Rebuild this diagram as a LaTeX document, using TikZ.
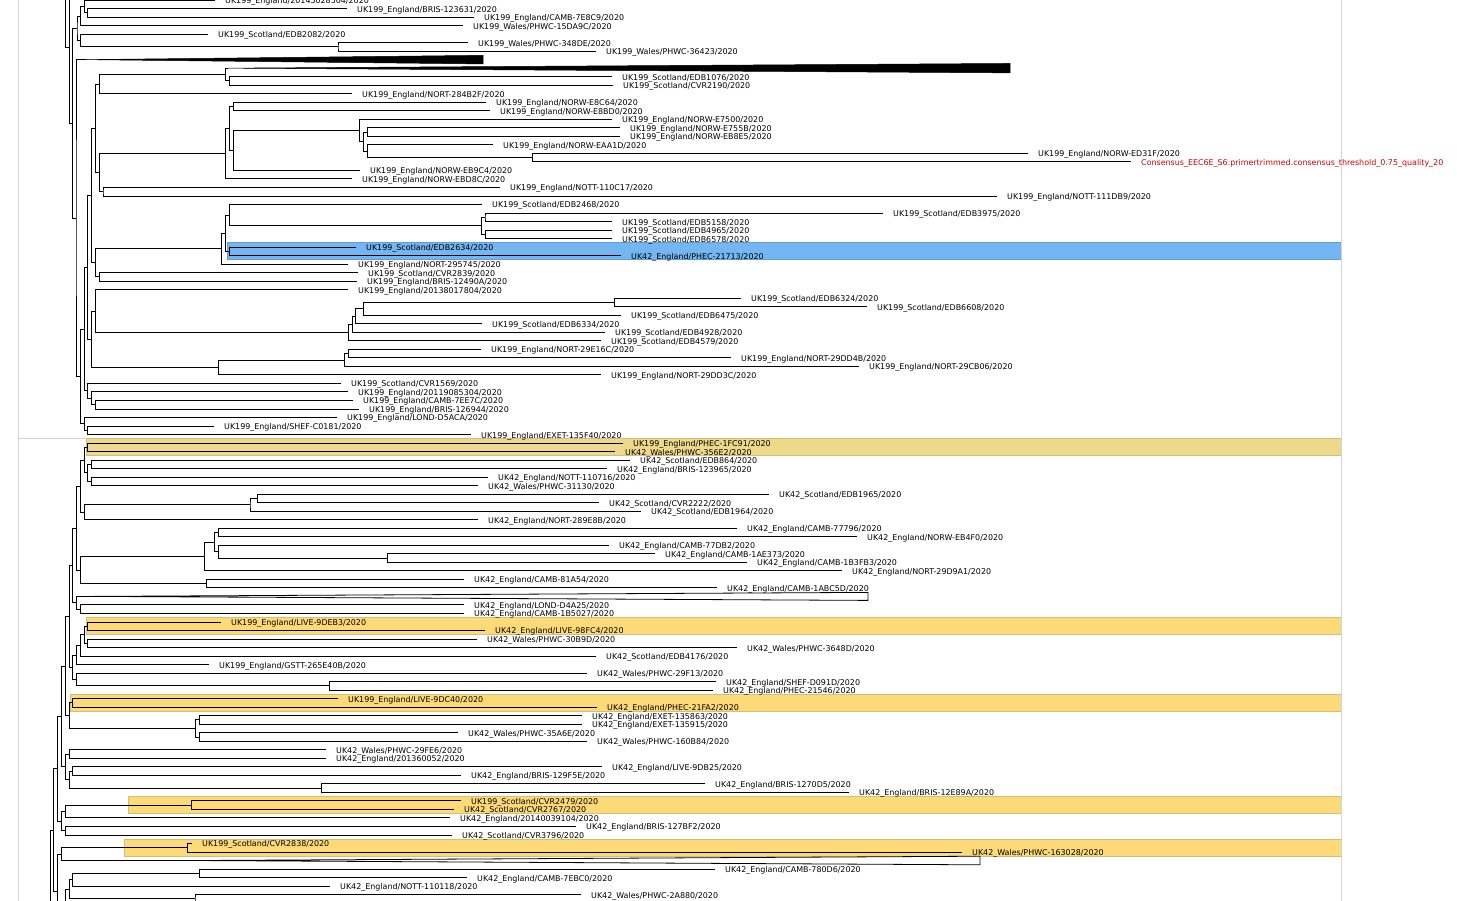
\documentclass[tikz,border=0pt]{standalone}
\usepackage{fontspec}
\newfontfamily\labfamily{DejaVu Sans}
\usetikzlibrary{calc}

\definecolor{hlblue}{RGB}{116,182,242}
\definecolor{hlblueline}{RGB}{96,156,214}
\definecolor{hltan}{RGB}{237,216,140}
\definecolor{hlyellow}{RGB}{253,218,120}
\definecolor{hlline}{RGB}{214,190,122}
\definecolor{panelline}{RGB}{212,212,212}
\definecolor{conred}{RGB}{204,0,0}

\tikzset{
  branch/.style={line width=0.9pt, line join=miter},
  lab/.style={anchor=base west, inner sep=0pt, font=\labfamily\fontsize{7.95}{9}\selectfont},
  refseq/.style={text=conred},
  solidclade/.style={fill=black, draw=black, line width=0.5pt, line join=miter},
  openclade/.style={fill=white, draw=black, line width=0.8pt, line join=miter},
  band/.style={line width=0.6pt},
}

% leaf: [style] row, tip x, label
\newcommand\leaf[4][]{%
  \coordinate (r#2) at (#3,{#2*8.52});
  \node[lab,#1] (l#2) at ([xshift=10pt,yshift=-3.5pt]r#2) {#4};}
% collapsed clade: row, apex x, base x, half height, style
\newcommand\clade[5]{%
  \coordinate (r#1) at (#2,{#1*8.52});
  \path[#5] (r#1) -- (#3,{#1*8.52-#4}) -- (#3,{#1*8.52+#4}) -- cycle;}
% internal node: name, x, first child, second child
\newcommand\inode[4]{%
  \path let \p1=($(#3)!0.5!(#4)$) in coordinate (#1) at (#2pt,\y1);
  \draw[branch] (#3) -| (#1) |- (#4);}

\begin{document}
\begin{tikzpicture}[x=1pt,y=-1pt]
\useasboundingbox (0,0) rectangle (1457,901);
\clip (0,0) rectangle (1457,901);
\fill[white] (0,0) rectangle (1457,901);

% highlighted clades
\filldraw[band, fill=hlblue, draw=hlblueline] (227.5,242.5) rectangle (1341,259.5);
\filldraw[band, fill=hltan, draw=hlline] (86.3,438.3) rectangle (1341,455.5);
\filldraw[band, fill=hlyellow, draw=hlline] (86.3,617.3) rectangle (1341,634.5);
\filldraw[band, fill=hlyellow, draw=hlline] (70,694) rectangle (1341,711.5);
\filldraw[band, fill=hlyellow, draw=hlline] (128,796.5) rectangle (1341,813.7);
\filldraw[band, fill=hlyellow, draw=hlline] (124,839.3) rectangle (1341,856.5);

% panel frame
\draw[panelline, line width=0.9pt] (18,0) -- (18,901);
\draw[panelline, line width=0.9pt] (1341,0) -- (1341,901);
\draw[panelline, line width=0.9pt] (18,438.3) -- (86.3,438.3);

% ---- tips ----
\leaf{0}{215}{UK199\_England/20145028504/2020}
\leaf{1}{347}{UK199\_England/BRIS-123631/2020}
\leaf{2}{474}{UK199\_England/CAMB-7E8C9/2020}
\leaf{3}{463}{UK199\_Wales/PHWC-15DA9C/2020}
\leaf{4}{208}{UK199\_Scotland/EDB2082/2020}
\leaf{5}{468}{UK199\_Wales/PHWC-348DE/2020}
\leaf{6}{596}{UK199\_Wales/PHWC-36423/2020}
\clade{7}{86}{483}{4.3}{solidclade}
\clade{8}{228}{1010}{4.7}{solidclade}
\leaf{9}{612}{UK199\_Scotland/EDB1076/2020}
\leaf{10}{613}{UK199\_Scotland/CVR2190/2020}
\leaf{11}{352}{UK199\_England/NORT-284B2F/2020}
\leaf{12}{486}{UK199\_England/NORW-E8C64/2020}
\leaf{13}{490}{UK199\_England/NORW-E8BD0/2020}
\leaf{14}{612}{UK199\_England/NORW-E7500/2020}
\leaf{15}{620}{UK199\_England/NORW-E755B/2020}
\leaf{16}{620}{UK199\_England/NORW-EB8E5/2020}
\leaf{17}{493}{UK199\_England/NORW-EAA1D/2020}
\leaf{18}{1028}{UK199\_England/NORW-ED31F/2020}
\leaf[refseq]{19}{1131}{Consensus\_EEC6E\_S6.primertrimmed.consensus\_threshold\_0.75\_quality\_20}
\leaf{20}{360}{UK199\_England/NORW-EB9C4/2020}
\leaf{21}{352}{UK199\_England/NORW-EBD8C/2020}
\leaf{22}{500}{UK199\_England/NOTT-110C17/2020}
\leaf{23}{997}{UK199\_England/NOTT-111DB9/2020}
\leaf{24}{482}{UK199\_Scotland/EDB2468/2020}
\leaf{25}{883}{UK199\_Scotland/EDB3975/2020}
\leaf{26}{612}{UK199\_Scotland/EDB5158/2020}
\leaf{27}{612}{UK199\_Scotland/EDB4965/2020}
\leaf{28}{612}{UK199\_Scotland/EDB6578/2020}
\leaf{29}{356}{UK199\_Scotland/EDB2634/2020}
\leaf{30}{621}{UK42\_England/PHEC-21713/2020}
\leaf{31}{348}{UK199\_England/NORT-295745/2020}
\leaf{32}{358}{UK199\_Scotland/CVR2839/2020}
\leaf{33}{357}{UK199\_England/BRIS-12490A/2020}
\leaf{34}{348}{UK199\_England/20138017804/2020}
\leaf{35}{741}{UK199\_Scotland/EDB6324/2020}
\leaf{36}{867}{UK199\_Scotland/EDB6608/2020}
\leaf{37}{621}{UK199\_Scotland/EDB6475/2020}
\leaf{38}{482}{UK199\_Scotland/EDB6334/2020}
\leaf{39}{605}{UK199\_Scotland/EDB4928/2020}
\leaf{40}{601}{UK199\_Scotland/EDB4579/2020}
\leaf{41}{481}{UK199\_England/NORT-29E16C/2020}
\leaf{42}{731}{UK199\_England/NORT-29DD4B/2020}
\leaf{43}{859}{UK199\_England/NORT-29CB06/2020}
\leaf{44}{601}{UK199\_England/NORT-29DD3C/2020}
\leaf{45}{341}{UK199\_Scotland/CVR1569/2020}
\leaf{46}{348}{UK199\_England/20119085304/2020}
\leaf{47}{353}{UK199\_England/CAMB-7EE7C/2020}
\leaf{48}{359}{UK199\_England/BRIS-126944/2020}
\leaf{49}{337}{UK199\_England/LOND-D5ACA/2020}
\leaf{50}{214}{UK199\_England/SHEF-C0181/2020}
\leaf{51}{471}{UK199\_England/EXET-135F40/2020}
\leaf{52}{623}{UK199\_England/PHEC-1FC91/2020}
\leaf{53}{615}{UK42\_Wales/PHWC-356E2/2020}
\leaf{54}{630}{UK42\_Scotland/EDB864/2020}
\leaf{55}{607}{UK42\_England/BRIS-123965/2020}
\leaf{56}{488}{UK42\_England/NOTT-110716/2020}
\leaf{57}{478}{UK42\_Wales/PHWC-31130/2020}
\leaf{58}{769}{UK42\_Scotland/EDB1965/2020}
\leaf{59}{599}{UK42\_Scotland/CVR2222/2020}
\leaf{60}{641}{UK42\_Scotland/EDB1964/2020}
\leaf{61}{478}{UK42\_England/NORT-289E8B/2020}
\leaf{62}{737}{UK42\_England/CAMB-77796/2020}
\leaf{63}{857}{UK42\_England/NORW-EB4F0/2020}
\leaf{64}{609}{UK42\_England/CAMB-77DB2/2020}
\leaf{65}{655}{UK42\_England/CAMB-1AE373/2020}
\leaf{66}{747}{UK42\_England/CAMB-1B3FB3/2020}
\leaf{67}{842}{UK42\_England/NORT-29D9A1/2020}
\leaf{68}{464}{UK42\_England/CAMB-81A54/2020}
\leaf{69}{717}{UK42\_England/CAMB-1ABC5D/2020}
\clade{70}{93}{868}{4}{openclade}
\leaf{71}{464}{UK42\_England/LOND-D4A25/2020}
\leaf{72}{464}{UK42\_England/CAMB-1B5027/2020}
\leaf{73}{221}{UK199\_England/LIVE-9DEB3/2020}
\leaf{74}{485}{UK42\_England/LIVE-98FC4/2020}
\leaf{75}{477}{UK42\_Wales/PHWC-30B9D/2020}
\leaf{76}{737}{UK42\_Wales/PHWC-3648D/2020}
\leaf{77}{596}{UK42\_Scotland/EDB4176/2020}
\leaf{78}{209}{UK199\_England/GSTT-265E40B/2020}
\leaf{79}{587}{UK42\_Wales/PHWC-29F13/2020}
\leaf{80}{716}{UK42\_England/SHEF-D091D/2020}
\leaf{81}{713}{UK42\_England/PHEC-21546/2020}
\leaf{82}{338}{UK199\_England/LIVE-9DC40/2020}
\leaf{83}{597}{UK42\_England/PHEC-21FA2/2020}
\leaf{84}{582}{UK42\_England/EXET-135863/2020}
\leaf{85}{582}{UK42\_England/EXET-135915/2020}
\leaf{86}{458}{UK42\_Wales/PHWC-35A6E/2020}
\leaf{87}{587}{UK42\_Wales/PHWC-160B84/2020}
\leaf{88}{326}{UK42\_Wales/PHWC-29FE6/2020}
\leaf{89}{326}{UK42\_England/201360052/2020}
\leaf{90}{602}{UK42\_England/LIVE-9DB25/2020}
\leaf{91}{461}{UK42\_England/BRIS-129F5E/2020}
\leaf{92}{705}{UK42\_England/BRIS-1270D5/2020}
\leaf{93}{849}{UK42\_England/BRIS-12E89A/2020}
\leaf{94}{461}{UK199\_Scotland/CVR2479/2020}
\leaf{95}{454}{UK42\_Scotland/CVR2767/2020}
\leaf{96}{450}{UK42\_England/20140039104/2020}
\leaf{97}{576}{UK42\_England/BRIS-127BF2/2020}
\leaf{98}{452}{UK42\_Scotland/CVR3796/2020}
\leaf{99}{192}{UK199\_Scotland/CVR2838/2020}
\leaf{100}{962}{UK42\_Wales/PHWC-163028/2020}
\clade{101}{197}{980}{4.3}{openclade}
\leaf{102}{715}{UK42\_England/CAMB-780D6/2020}
\leaf{103}{467}{UK42\_England/CAMB-7EBC0/2020}
\leaf{104}{330}{UK42\_England/NOTT-110118/2020}
\leaf{105}{581}{UK42\_Wales/PHWC-2A880/2020}
\coordinate (r106) at (590,{106*8.52});

% branches continuing beyond the visible frame
\coordinate (up0) at (70,-60);
\coordinate (up1) at (75,-28.7);
\coordinate (low1) at (75,967.7);
\coordinate (low2) at (60,1000);

% ---- upper part of the tree ----
\inode{A}{87.7}{r1}{r2}
\inode{B}{84.7}{r0}{A}
\inode{C}{80.3}{B}{r3}
\inode{D}{338}{r5}{r6}
\inode{E}{80.3}{r4}{D}
\inode{F}{77}{C}{E}
\inode{AO}{229.3}{r9}{r10}
\inode{AN}{225.7}{r8}{AO}
\inode{AL}{99.3}{AN}{r11}
\inode{AS}{233.3}{r12}{r13}
\inode{Ea}{367.3}{r15}{r16}
\inode{AV}{532.3}{r18}{r19}
\inode{AW}{367.3}{r17}{AV}
\inode{AX}{363.3}{Ea}{AW}
\inode{AU}{359.3}{r14}{AX}
\inode{AT}{233.3}{AU}{r20}
\inode{AR}{229.3}{AS}{AT}
\inode{AP}{225.7}{AR}{r21}
\inode{AQ}{103}{r22}{r23}
\inode{AM}{99.3}{AP}{AQ}
\inode{AA}{95.3}{AL}{AM}
\inode{Sa}{485}{r25}{r26}
\inode{AI}{485.7}{r27}{r28}
\inode{AJ}{481.7}{Sa}{AI}
\inode{AF}{229.3}{r24}{AJ}
\inode{AG}{229.3}{r29}{r30}
\inode{AE}{225.7}{AF}{AG}
\inode{AC}{221.7}{AE}{r31}
\inode{AD}{99.3}{r32}{r33}
\inode{AB}{95.3}{AC}{AD}
\inode{Q}{91.7}{AA}{AB}
\inode{Z1}{614.3}{r35}{r36}
\inode{Z2}{363.3}{Z1}{r37}
\inode{Z3}{355.7}{Z2}{r38}
\inode{Z4}{352.3}{Z3}{r39}
\inode{Z5}{348.3}{Z4}{r40}
\inode{T}{95.7}{r34}{Z5}
\inode{W}{348.3}{r41}{r42}
\inode{V}{344.3}{W}{r43}
\inode{U}{218.3}{V}{r44}
\inode{S}{91.7}{T}{U}
\inode{M}{87.7}{Q}{S}
\inode{P}{95.7}{r47}{r48}
\inode{O}{91.7}{r46}{P}
\inode{N}{87.7}{r45}{O}
\inode{J}{84.3}{M}{N}
\inode{L}{87.7}{r50}{r51}
\inode{K}{84.3}{r49}{L}
\inode{I}{80.3}{J}{K}
\inode{H}{76}{r7}{I}
\inode{G}{72.3}{F}{H}
\inode{R1}{69.7}{up1}{G}
\inode{R0}{65.7}{up0}{R1}

% ---- lower part of the tree ----
\inode{BA}{87.7}{r52}{r53}
\inode{BD}{91.7}{r54}{r55}
\inode{BE}{91.7}{r56}{r57}
\inode{BC}{87.7}{BD}{BE}
\inode{BB}{84.3}{BA}{BC}
\inode{BI}{257.7}{r58}{r59}
\inode{BH}{250}{BI}{r60}
\inode{BG}{84.3}{BH}{r61}
\inode{BF}{80.3}{BB}{BG}
\inode{BP}{218.3}{r62}{r63}
\inode{BR}{387.3}{r65}{r66}
\inode{BQ}{218.3}{r64}{BR}
\inode{BO}{214.3}{BP}{BQ}
\inode{BM}{204.3}{BO}{r67}
\inode{BN}{206.3}{r68}{r69}
\inode{BL}{80.3}{BM}{BN}
\inode{BJ}{76.3}{BF}{BL}
\inode{BU}{80.3}{r71}{r72}
\inode{BT}{76.3}{r70}{BU}
\inode{BS}{72.3}{BJ}{BT}
\inode{CA}{87.7}{r73}{r74}
\inode{CC}{87.7}{r75}{r76}
\inode{CB}{84.3}{CA}{CC}
\inode{CD}{80.3}{CB}{r77}
\inode{CE}{76.3}{CD}{r78}
\inode{CH}{329.3}{r80}{r81}
\inode{CG}{76.3}{r79}{CH}
\inode{CF}{72.3}{CE}{CG}
\inode{BV}{69.7}{BS}{CF}
\inode{CK}{72.3}{r82}{r83}
\inode{CM}{199.3}{r84}{r85}
\inode{CN}{199.3}{r86}{r87}
\inode{CL}{195.7}{CM}{CN}
\inode{CJ}{69.7}{CK}{CL}
\inode{CI}{65.7}{BV}{CJ}
\inode{CQ}{69.7}{r88}{r89}
\inode{CS}{72.3}{r90}{r91}
\inode{CT}{321.7}{r92}{r93}
\inode{CR}{69.7}{CS}{CT}
\inode{CP}{65.7}{CQ}{CR}
\inode{CO}{61.7}{CI}{CP}
\inode{CW}{191.7}{r94}{r95}
\inode{CX}{65.7}{CW}{r96}
\inode{CZ}{65.7}{r97}{r98}
\inode{CY}{61.7}{CX}{CZ}
\inode{CU}{57.3}{CO}{CY}
\inode{DA}{187.7}{r99}{r100}
\inode{DC}{61.7}{DA}{r101}
\inode{DD}{199.3}{r102}{r103}
\inode{DE}{72.3}{DD}{r104}
\inode{DG}{195}{r105}{r106}
\inode{DF}{69.7}{DE}{DG}
\inode{DH}{65.7}{DF}{low1}
\inode{DI}{57.3}{DC}{DH}
\inode{DJ}{53.3}{CU}{DI}
\inode{DL}{50.7}{DJ}{low2}
\end{tikzpicture}
\end{document}
